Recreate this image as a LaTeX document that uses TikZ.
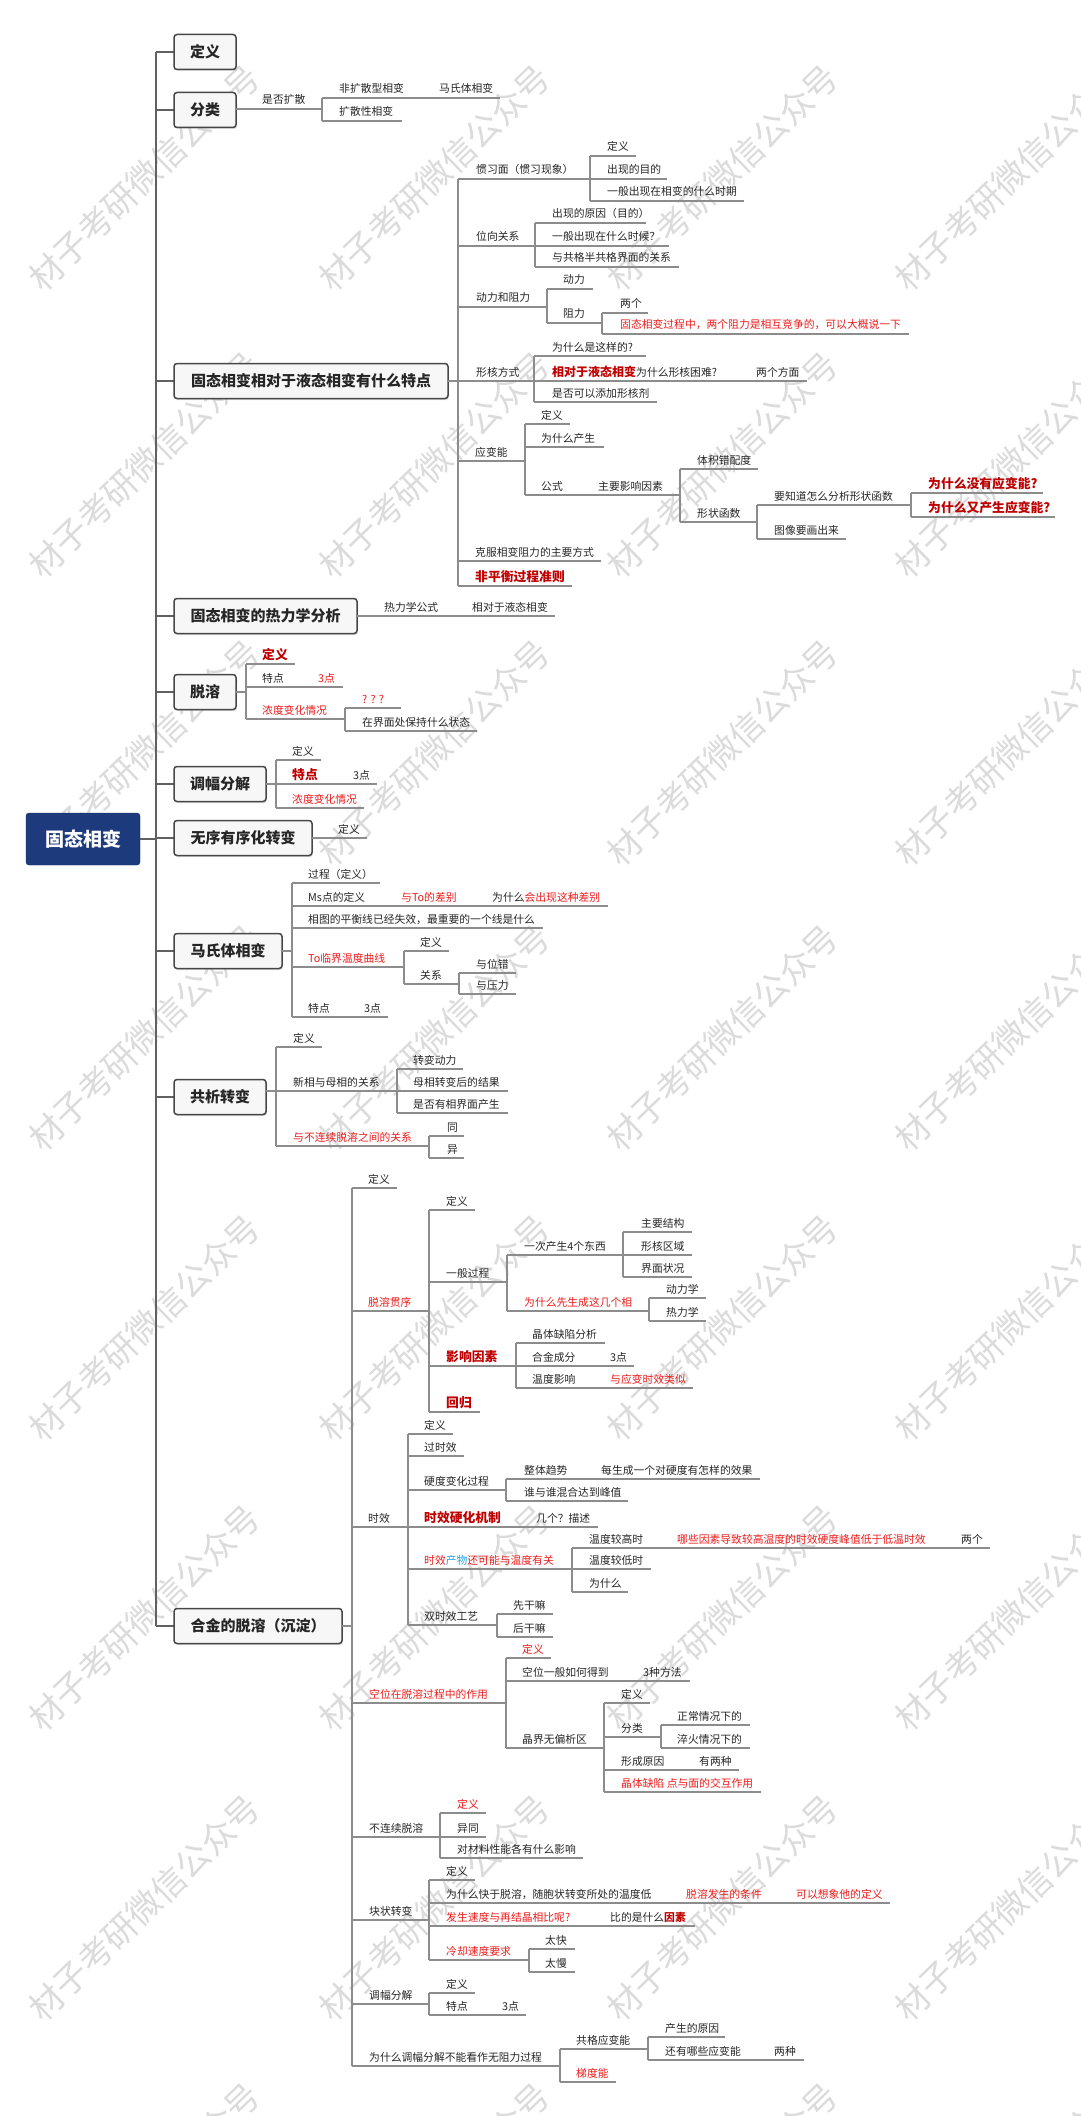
\documentclass[tikz,border=0pt]{standalone}
\usepackage{fontspec}
\newfontfamily\cjk{Noto Sans CJK SC}
\usetikzlibrary{shadows}
\definecolor{txt}{HTML}{262626}
\definecolor{rtxt}{HTML}{EE1C1C}
\definecolor{dred}{HTML}{C00000}
\definecolor{bluet}{HTML}{1FA3E6}
\definecolor{navy}{HTML}{1C3A7C}
\newcommand\mtx[5][]{\node[tt,#1] (#2) at (#3,#4) {#5};}
\newcommand\mhl[3]{\draw[ln] (#1,#3) -- (#2,#3);}
\newcommand\mvl[3]{\draw[ln] (#1,#2) -- (#1,#3);}
\tikzset{
  tt/.style={anchor=base west, inner sep=0pt, yshift=5pt, font=\cjk\fontsize{10.8}{13}\selectfont, text=txt},
  rs/.style={text=rtxt},
  rb/.style={text=dred, font=\cjk\fontsize{12.8}{15}\selectfont\bfseries},
  ln/.style={draw=black!45, line width=1.2pt},
  trunk/.style={draw=black!62, line width=2.2pt},
  box/.style={draw=black!72, line width=1.5pt, fill=black!3, rounded corners=3pt, minimum height=35pt, inner sep=0pt,
    font=\cjk\fontsize{15}{18}\selectfont\bfseries, text=txt,
    drop shadow={shadow xshift=1.2pt, shadow yshift=-1.5pt, opacity=0.25}},
  wm/.style={anchor=west, inner sep=0pt, rotate=44, font=\cjk\fontsize{34}{36}\selectfont, text=black!14}
}
\begin{document}
\begin{tikzpicture}[x=1pt,y=-1pt]
\fill[white] (0,0) rectangle (1080,2116);
\path[use as bounding box] (0,0) rectangle (1080,2116);
% watermarks
\begin{scope}
\clip (0,0) rectangle (1080,2116);
\foreach \cx in {46,336,624,912}{\foreach \cy in {272,559,847,1132,1422,1712,2002,2290}{
  \node[wm] (wm-\cx-\cy) at (\cx-12,\cy+12) {材子考研微信公众号};}}
\end{scope}
% trunk and central node
\node[draw=navy!80!black, fill=navy, rounded corners=3pt, minimum width=114pt, minimum height=52pt, inner sep=0pt,
  font=\cjk\fontsize{19}{22}\selectfont\bfseries, text=white] (root) at (83,839) {固态相变};
\draw[trunk] (156,52) -- (156,1626);
\draw[trunk] (root.east) -- (156,839);
% boxes
\foreach \yy in {52,110,381,616,692,784,838,951,1097,1626}{\draw[trunk] (156,\yy) -- (174,\yy);}
\node[box, minimum width=62pt] (b1) at (205,52) {定义};
\node[box, minimum width=62pt] (b2) at (205,110) {分类};
\node[box, minimum width=274pt] (b3) at (311,381) {固态相变相对于液态相变有什么特点};
\node[box, minimum width=183pt] (b4) at (265.5,616) {固态相变的热力学分析};
\node[box, minimum width=62pt] (b5) at (205,692) {脱溶};
\node[box, minimum width=92pt] (b6) at (220,784) {调幅分解};
\node[box, minimum width=138pt] (b7) at (243,838) {无序有序化转变};
\node[box, minimum width=108pt] (b8) at (228,951) {马氏体相变};
\node[box, minimum width=92pt] (b9) at (220,1097) {共析转变};
\node[box, minimum width=168pt] (b10) at (258,1626) {合金的脱溶（沉淀）};

% ---- 分类
\mhl{236}{322}{109} \mtx{a1}{262}{109}{是否扩散}
\mvl{322}{98}{121}
\mhl{322}{500}{98} \mtx{a2}{339}{98}{非扩散型相变} \mtx{a3}{439}{98}{马氏体相变}
\mhl{322}{402}{121} \mtx{a4}{339}{121}{扩散性相变}

% ---- 特点
\mhl{448}{458}{381} \mvl{458}{179}{586}
\mtx{c1}{476}{179}{惯习面（惯习现象）} \mhl{458}{590}{179} \mvl{590}{156}{201}
\mtx{c2}{607}{156}{定义} \mhl{590}{636}{156}
\mtx{c3}{607}{179}{出现的目的} \mhl{590}{667}{179}
\mtx{c4}{607}{201}{一般出现在相变的什么时期} \mhl{590}{744}{201}
\mtx{c5}{476}{246}{位向关系} \mhl{458}{535}{246} \mvl{535}{223}{267}
\mtx{c6}{552}{223}{出现的原因（目的）} \mhl{535}{646}{223}
\mtx{c7}{552}{246}{一般出现在什么时候？} \mhl{535}{669}{246}
\mtx{c8}{552}{267}{与共格半共格界面的关系} \mhl{535}{679}{267}
\mtx{c9}{476}{307}{动力和阻力} \mhl{458}{547}{307} \mvl{547}{289}{323}
\mtx{c10}{563}{289}{动力} \mhl{547}{593}{289}
\mtx{c11}{563}{323}{阻力} \mhl{547}{602}{323} \mvl{602}{313}{334}
\mtx{c12}{620}{313}{两个} \mhl{602}{648}{313}
\mtx[rs]{c13}{620}{334}{固态相变过程中，两个阻力是相互竞争的，可以大概说一下} \mhl{602}{909}{334}
\mtx{c14}{476}{381}{形核方式} \mhl{458}{534}{381} \mvl{534}{356}{402}
\mtx{c15}{552}{356}{为什么是这样的?} \mhl{534}{646}{356}
\mtx{c16}{552}{381}{{\fontsize{12}{14}\selectfont\bfseries\color{dred}相对于液态相变}为什么形核困难?}
\mtx{c17}{756}{381}{两个方面} \mhl{534}{807}{381}
\mtx{c18}{552}{402}{是否可以添加形核剂} \mhl{534}{657}{402}
\mtx{c19}{475}{461}{应变能} \mhl{458}{525}{461} \mvl{525}{424}{495}
\mtx{c20}{541}{424}{定义} \mhl{525}{570}{424}
\mtx{c21}{541}{447}{为什么产生} \mhl{525}{604}{447}
\mtx{c22}{541}{495}{公式} \mtx{c23}{598}{495}{主要影响因素} \mhl{525}{680}{495} \mvl{680}{469}{522}
\mtx{c24}{697}{469}{体积错配度} \mhl{680}{758}{469}
\mtx{c25}{697}{522}{形状函数} \mhl{680}{757}{522} \mvl{757}{505}{539}
\mtx{c26}{774}{505}{要知道怎么分析形状函数} \mhl{757}{911}{505} \mvl{911}{493}{517}
\mtx[rb]{c27}{928}{493}{为什么没有应变能?} \mhl{911}{1043}{493}
\mtx[rb]{c28}{928}{517}{为什么又产生应变能?} \mhl{911}{1055}{517}
\mtx{c29}{774}{539}{图像要画出来} \mhl{757}{846}{539}
\mtx{c30}{475}{561}{克服相变阻力的主要方式} \mhl{458}{601}{561}
\mtx[rb]{c31}{475}{586}{非平衡过程准则} \mhl{458}{572}{586}

% ---- 热力学分析
\mhl{357}{555}{616} \mtx{d1}{384}{616}{热力学公式} \mtx{d2}{472}{616}{相对于液态相变}

% ---- 脱溶
\mhl{236}{246}{692} \mvl{246}{664}{719}
\mtx[rb]{e1}{262}{664}{定义} \mhl{246}{295}{664}
\mtx{e2}{262}{687}{特点} \mtx[rs]{e3}{318}{687}{3点} \mhl{246}{343}{687}
\mtx[rs]{e4}{262}{719}{浓度变化情况} \mhl{246}{345}{719} \mvl{345}{708}{731}
\mtx[rs]{e5}{362}{708}{? ? ?} \mhl{345}{401}{708}
\mtx{e6}{362}{731}{在界面处保持什么状态} \mhl{345}{477}{731}

% ---- 调幅分解
\mhl{266}{276}{784} \mvl{276}{760}{808}
\mtx{f1}{292}{760}{定义} \mhl{276}{321}{760}
\mtx[rb]{f2}{292}{784}{特点} \mtx{f3}{353}{784}{3点} \mhl{276}{377}{784}
\mtx[rs]{f4}{292}{808}{浓度变化情况} \mhl{276}{364}{808}

% ---- 无序有序化转变
\mhl{312}{367}{838} \mtx{g1}{338}{838}{定义}

% ---- 马氏体相变
\mhl{282}{292}{951} \mvl{292}{883}{1017}
\mtx{h1}{308}{883}{过程（定义）} \mhl{292}{380}{883}
\mtx{h2}{308}{906}{Ms点的定义} \mtx[rs]{h3}{401}{906}{与To的差别} \mtx{h4}{492}{906}{为什么{\color{rtxt}会出现这种差别}} \mhl{292}{608}{906}
\mtx{h5}{308}{928}{相图的平衡线已经失效，最重要的一个线是什么} \mhl{292}{543}{928}
\mtx[rs]{h6}{308}{967}{To临界温度曲线} \mhl{292}{404}{967} \mvl{404}{951}{984}
\mtx{h7}{420}{951}{定义} \mhl{404}{449}{951}
\mtx{h8}{420}{984}{关系} \mhl{404}{459}{984} \mvl{459}{973}{994}
\mtx{h9}{476}{973}{与位错} \mhl{459}{516}{973}
\mtx{h10}{476}{994}{与压力} \mhl{459}{516}{994}
\mtx{h11}{308}{1017}{特点} \mtx{h12}{364}{1017}{3点} \mhl{292}{388}{1017}

% ---- 共析转变
\mvl{276}{1047}{1146}
\mtx{i1}{293}{1047}{定义} \mhl{276}{322}{1047}
\mtx{i2}{293}{1091}{新相与母相的关系} \mhl{266}{397}{1091} \mvl{397}{1069}{1113}
\mtx{i3}{413}{1069}{转变动力} \mhl{397}{463}{1069}
\mtx{i4}{413}{1091}{母相转变后的结果} \mhl{397}{508}{1091}
\mtx{i5}{413}{1113}{是否有相界面产生} \mhl{397}{508}{1113}
\mtx[rs]{i6}{293}{1146}{与不连续脱溶之间的关系} \mhl{276}{429}{1146} \mvl{429}{1136}{1158}
\mtx{i7}{447}{1136}{同} \mhl{429}{464}{1136}
\mtx{i8}{447}{1158}{异} \mhl{429}{464}{1158}

% ---- 合金的脱溶
\mhl{342}{352}{1626} \mvl{352}{1188}{2066}
\mtx{k1}{368}{1188}{定义} \mhl{352}{397}{1188}
\mtx[rs]{k2}{368}{1311}{脱溶贯序} \mhl{352}{429}{1311} \mvl{429}{1210}{1412}
\mtx{k3}{446}{1210}{定义} \mhl{429}{475}{1210}
\mtx{k4}{446}{1282}{一般过程} \mhl{429}{507}{1282} \mvl{507}{1255}{1311}
\mtx{k5}{524}{1255}{一次产生4个东西} \mhl{507}{623}{1255} \mvl{623}{1232}{1277}
\mtx{k6}{641}{1232}{主要结构} \mhl{623}{692}{1232}
\mtx{k7}{641}{1255}{形核区域} \mhl{623}{692}{1255}
\mtx{k8}{641}{1277}{界面状况} \mhl{623}{692}{1277}
\mtx[rs]{k9}{524}{1311}{为什么先生成这几个相} \mhl{507}{649}{1311} \mvl{649}{1298}{1321}
\mtx{k10}{666}{1298}{动力学} \mhl{649}{706}{1298}
\mtx{k11}{666}{1321}{热力学} \mhl{649}{706}{1321}
\mtx[rb]{k12}{446}{1366}{影响因素} \mhl{429}{516}{1366} \mvl{516}{1343}{1388}
\mtx{k13}{532}{1343}{晶体缺陷分析} \mhl{516}{605}{1343}
\mtx{k14}{532}{1366}{合金成分} \mtx{k15}{610}{1366}{3点} \mhl{516}{634}{1366}
\mtx{k16}{532}{1388}{温度影响} \mtx[rs]{k17}{610}{1388}{与应变时效类似} \mhl{516}{693}{1388}
\mtx[rb]{k18}{446}{1412}{回归} \mhl{429}{480}{1412}

\mtx{m1}{368}{1527}{时效} \mhl{352}{408}{1527} \mvl{408}{1434}{1625}
\mtx{m2}{424}{1434}{定义} \mhl{408}{453}{1434}
\mtx{m3}{424}{1456}{过时效} \mhl{408}{464}{1456}
\mtx{m4}{424}{1490}{硬度变化过程} \mhl{408}{506}{1490} \mvl{506}{1479}{1501}
\mtx{m5}{524}{1479}{整体趋势} \mtx{m6}{601}{1479}{每生成一个对硬度有怎样的效果} \mhl{506}{760}{1479}
\mtx{m7}{524}{1501}{谁与谁混合达到峰值} \mhl{506}{628}{1501}
\mtx[rb]{m8}{424}{1527}{时效硬化机制} \mtx{m9}{536}{1527}{几个？描述} \mhl{408}{598}{1527}
\mtx[rs]{m10}{424}{1569}{时效{\color{bluet}产物}还可能与温度有关} \mhl{408}{572}{1569} \mvl{572}{1548}{1592}
\mtx{m11}{589}{1548}{温度较高时} \mtx[rs]{m12}{677}{1548}{哪些因素导致较高温度的时效硬度峰值低于低温时效} \mtx{m13}{961}{1548}{两个} \mhl{572}{990}{1548}
\mtx{m14}{589}{1569}{温度较低时} \mhl{572}{651}{1569}
\mtx{m15}{589}{1592}{为什么} \mhl{572}{628}{1592}
\mtx{m16}{424}{1625}{双时效工艺} \mhl{408}{497}{1625} \mvl{497}{1614}{1637}
\mtx{m17}{513}{1614}{先干嘛} \mhl{497}{553}{1614}
\mtx{m18}{513}{1637}{后干嘛} \mhl{497}{553}{1637}

\mtx[rs]{p1}{369}{1703}{空位在脱溶过程中的作用} \mhl{352}{506}{1703} \mvl{506}{1658}{1748}
\mtx[rs]{p2}{522}{1658}{定义} \mhl{506}{551}{1658}
\mtx{p3}{522}{1681}{空位一般如何得到} \mtx{p4}{643}{1681}{3种方法} \mhl{506}{690}{1681}
\mtx{p5}{522}{1748}{晶界无偏析区} \mhl{506}{604}{1748} \mvl{604}{1703}{1792}
\mtx{p6}{621}{1703}{定义} \mhl{604}{650}{1703}
\mtx{p7}{621}{1737}{分类} \mhl{604}{661}{1737} \mvl{661}{1725}{1748}
\mtx{p8}{677}{1725}{正常情况下的} \mhl{661}{750}{1725}
\mtx{p9}{677}{1748}{淬火情况下的} \mhl{661}{750}{1748}
\mtx{p10}{621}{1770}{形成原因} \mtx{p11}{699}{1770}{有两种} \mhl{604}{739}{1770}
\mtx[rs]{p12}{621}{1792}{晶体缺陷 点与面的交互作用} \mhl{604}{761}{1792}

\mtx{q1}{369}{1837}{不连续脱溶} \mhl{352}{440}{1837} \mvl{440}{1813}{1858}
\mtx[rs]{q2}{457}{1813}{定义} \mhl{440}{486}{1813}
\mtx{q3}{457}{1837}{异同} \mhl{440}{486}{1837}
\mtx{q4}{457}{1858}{对材料性能各有什么影响} \mhl{440}{583}{1858}

\mtx{r1}{369}{1920}{块状转变} \mhl{352}{429}{1920} \mvl{429}{1880}{1960}
\mtx{r2}{446}{1880}{定义} \mhl{429}{475}{1880}
\mtx{r3}{446}{1903}{为什么快于脱溶，随胞状转变所处的温度低} \mtx[rs]{r4}{686}{1903}{脱溶发生的条件} \mtx[rs]{r5}{796}{1903}{可以想象他的定义} \mhl{429}{890}{1903}
\mtx[rs]{r6}{446}{1926}{发生速度与再结晶相比呢?} \mtx{r7}{610}{1926}{比的是什么{\bfseries\color{dred}因素}} \mhl{429}{695}{1926}
\mtx[rs]{r8}{446}{1960}{冷却速度要求} \mhl{429}{529}{1960} \mvl{529}{1949}{1972}
\mtx{r9}{545}{1949}{太快} \mhl{529}{575}{1949}
\mtx{r10}{545}{1972}{太慢} \mhl{529}{575}{1972}

\mtx{s1}{369}{2004}{调幅分解} \mhl{352}{429}{2004} \mvl{429}{1993}{2015}
\mtx{s2}{446}{1993}{定义} \mhl{429}{475}{1993}
\mtx{s3}{446}{2015}{特点} \mtx{s4}{502}{2015}{3点} \mhl{429}{526}{2015}

\mtx{u1}{369}{2066}{为什么调幅分解不能看作无阻力过程} \mhl{352}{560}{2066} \mvl{560}{2049}{2082}
\mtx{u2}{576}{2049}{共格应变能} \mhl{560}{648}{2049} \mvl{648}{2037}{2060}
\mtx{u3}{665}{2037}{产生的原因} \mhl{648}{725}{2037}
\mtx{u4}{665}{2060}{还有哪些应变能} \mtx{u5}{774}{2060}{两种} \mhl{648}{804}{2060}
\mtx[rs]{u6}{576}{2082}{梯度能} \mhl{560}{616}{2082}
\end{tikzpicture}
\end{document}
